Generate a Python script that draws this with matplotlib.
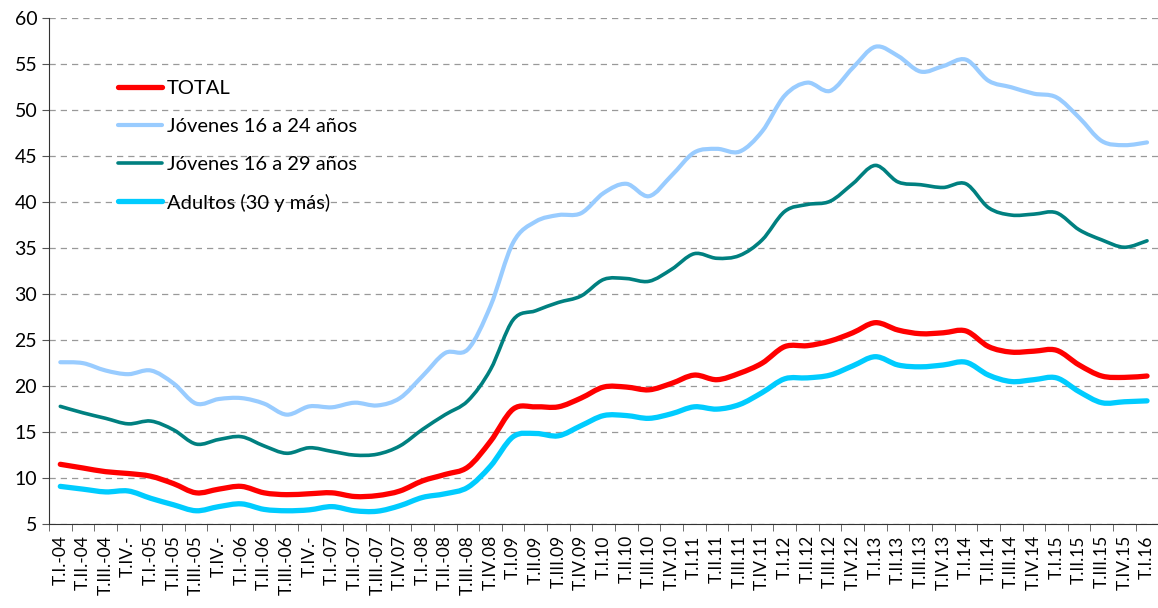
import matplotlib
matplotlib.use("Agg")
import matplotlib.pyplot as plt
from matplotlib.path import Path
from matplotlib.patches import PathPatch
from matplotlib.lines import Line2D
import numpy as np

# etiquetas de trimestres
quarters = [
    "T.I.-04", "T.II.-04", "T.III.-04", "T.IV.-",
    "T.I.-05", "T.II.-05", "T.III.-05", "T.IV.-",
    "T.I.-06", "T.II.-06", "T.III.-06", "T.IV.-",
    "T.I.-07", "T.II.-07", "T.III.-07", "T.IV.07",
    "T.I.-08", "T.II.-08", "T.III.-08", "T.IV.08",
    "T.I.09", "T.II.09", "T.III.09", "T.IV.09",
    "T.I.10", "T.II.10", "T.III.10", "T.IV.10",
    "T.I.11", "T.II.11", "T.III.11", "T.IV.11",
    "T.I.12", "T.II.12", "T.III.12", "T.IV.12",
    "T.I.13", "T.II.13", "T.III.13", "T.IV.13",
    "T.I.14", "T.II.14", "T.III.14", "T.IV.14",
    "T.I.15", "T.II.15", "T.III.15", "T.IV.15",
    "T.I.16",
]

total = [11.5, 11.1, 10.7, 10.5, 10.2, 9.4, 8.4, 8.8, 9.1, 8.4, 8.2, 8.3, 8.4, 8.0, 8.1, 8.6,
         9.7, 10.4, 11.2, 14.0, 17.5, 17.75, 17.75, 18.7, 19.9, 19.9, 19.6, 20.3,
         21.2, 20.7, 21.4, 22.5, 24.3, 24.4, 24.9, 25.8, 26.9, 26.1, 25.7, 25.8,
         26.0, 24.3, 23.7, 23.8, 23.9, 22.3, 21.1, 20.95, 21.1]

jov_16_24 = [22.6, 22.5, 21.7, 21.3, 21.7, 20.3, 18.1, 18.6, 18.7, 18.1, 16.9, 17.8, 17.7, 18.2, 17.9, 18.7,
             21.1, 23.6, 24.0, 28.7, 35.6, 37.9, 38.6, 38.8, 41.0, 42.0, 40.65, 42.9,
             45.4, 45.8, 45.5, 47.7, 51.6, 53.0, 52.1, 54.6, 56.9, 55.9, 54.2, 54.8,
             55.5, 53.2, 52.5, 51.8, 51.4, 49.2, 46.65, 46.2, 46.5]

jov_16_29 = [17.8, 17.1, 16.5, 15.9, 16.2, 15.25, 13.7, 14.2, 14.5, 13.5, 12.7, 13.3, 12.9, 12.5, 12.6, 13.5,
             15.3, 16.9, 18.4, 21.8, 27.2, 28.2, 29.1, 29.8, 31.6, 31.7, 31.4, 32.7,
             34.4, 33.9, 34.2, 35.9, 39.0, 39.75, 40.1, 42.0, 44.0, 42.2, 41.9, 41.6,
             42.0, 39.4, 38.6, 38.7, 38.85, 37.0, 35.9, 35.1, 35.8]

adultos = [9.1, 8.8, 8.5, 8.6, 7.8, 7.1, 6.45, 6.9, 7.2, 6.6, 6.45, 6.55, 6.9, 6.45, 6.4, 7.0,
           7.9, 8.3, 9.0, 11.3, 14.5, 14.85, 14.6, 15.7, 16.8, 16.8, 16.5, 17.0,
           17.75, 17.5, 18.0, 19.3, 20.8, 20.9, 21.2, 22.2, 23.2, 22.3, 22.1, 22.3,
           22.6, 21.2, 20.5, 20.7, 20.9, 19.4, 18.2, 18.3, 18.4]

series = [
    ("TOTAL", total, "#FF0000", 3.8),
    ("Jóvenes 16 a 24 años", jov_16_24, "#99CCFF", 3.0),
    ("Jóvenes 16 a 29 años", jov_16_29, "#008080", 2.6),
    ("Adultos (30 y más)", adultos, "#00CCFF", 3.8),
]

plt.rcParams['font.family'] = ['Lato', 'DejaVu Sans']


def smooth_path(x, y):
    # linea suavizada tipo Excel (Bezier)
    pts = np.column_stack([x, y])
    n = len(pts)
    verts = [pts[0]]
    codes = [Path.MOVETO]
    for i in range(n - 1):
        p0 = pts[max(i - 1, 0)]
        p1 = pts[i]
        p2 = pts[i + 1]
        p3 = pts[min(i + 2, n - 1)]
        c1 = p1 + (p2 - p0) / 6.0
        c2 = p2 - (p3 - p1) / 6.0
        verts += [c1, c2, p2]
        codes += [Path.CURVE4] * 3
    return Path(verts, codes)


fig = plt.figure(figsize=(11.58, 6.08), dpi=100)
ax = fig.add_axes([0.0423, 0.138, 0.958, 0.832])

x = np.arange(len(quarters))
handles = []
for name, vals, color, lw in series:
    patch = PathPatch(smooth_path(x, vals), fill=False, edgecolor=color, linewidth=lw,
                      capstyle='round', joinstyle='round', zorder=3)
    ax.add_patch(patch)
    handles.append(Line2D([], [], color=color, linewidth=lw, solid_capstyle='round'))

ax.set_xlim(-0.5, len(quarters) - 0.5)
ax.set_ylim(5, 60)
ax.set_yticks(np.arange(5, 61, 5))
ax.yaxis.grid(True, linestyle=(0, (5, 4)), color='#999999', linewidth=0.9)
ax.set_axisbelow(True)

ax.set_xticks(x)
ax.set_xticklabels(quarters, rotation=90, fontsize=12.5)
ax.set_xticks(np.arange(-0.5, len(quarters), 1), minor=True)
ax.tick_params(axis='x', which='major', length=0, pad=8)
ax.tick_params(axis='x', which='minor', length=5, color='#555555')
ax.tick_params(axis='y', labelsize=14, length=5, color='#555555')

for s in ['top', 'right']:
    ax.spines[s].set_visible(False)
for s in ['left', 'bottom']:
    ax.spines[s].set_color('#333333')

ax.legend(handles, [s[0] for s in series], loc='upper left', bbox_to_anchor=(0.062, 0.878),
          frameon=False, fontsize=14.5, handlelength=2.2, handletextpad=0.25,
          labelspacing=1.03, borderpad=0, borderaxespad=0)

plt.savefig('out.png', dpi=100)
